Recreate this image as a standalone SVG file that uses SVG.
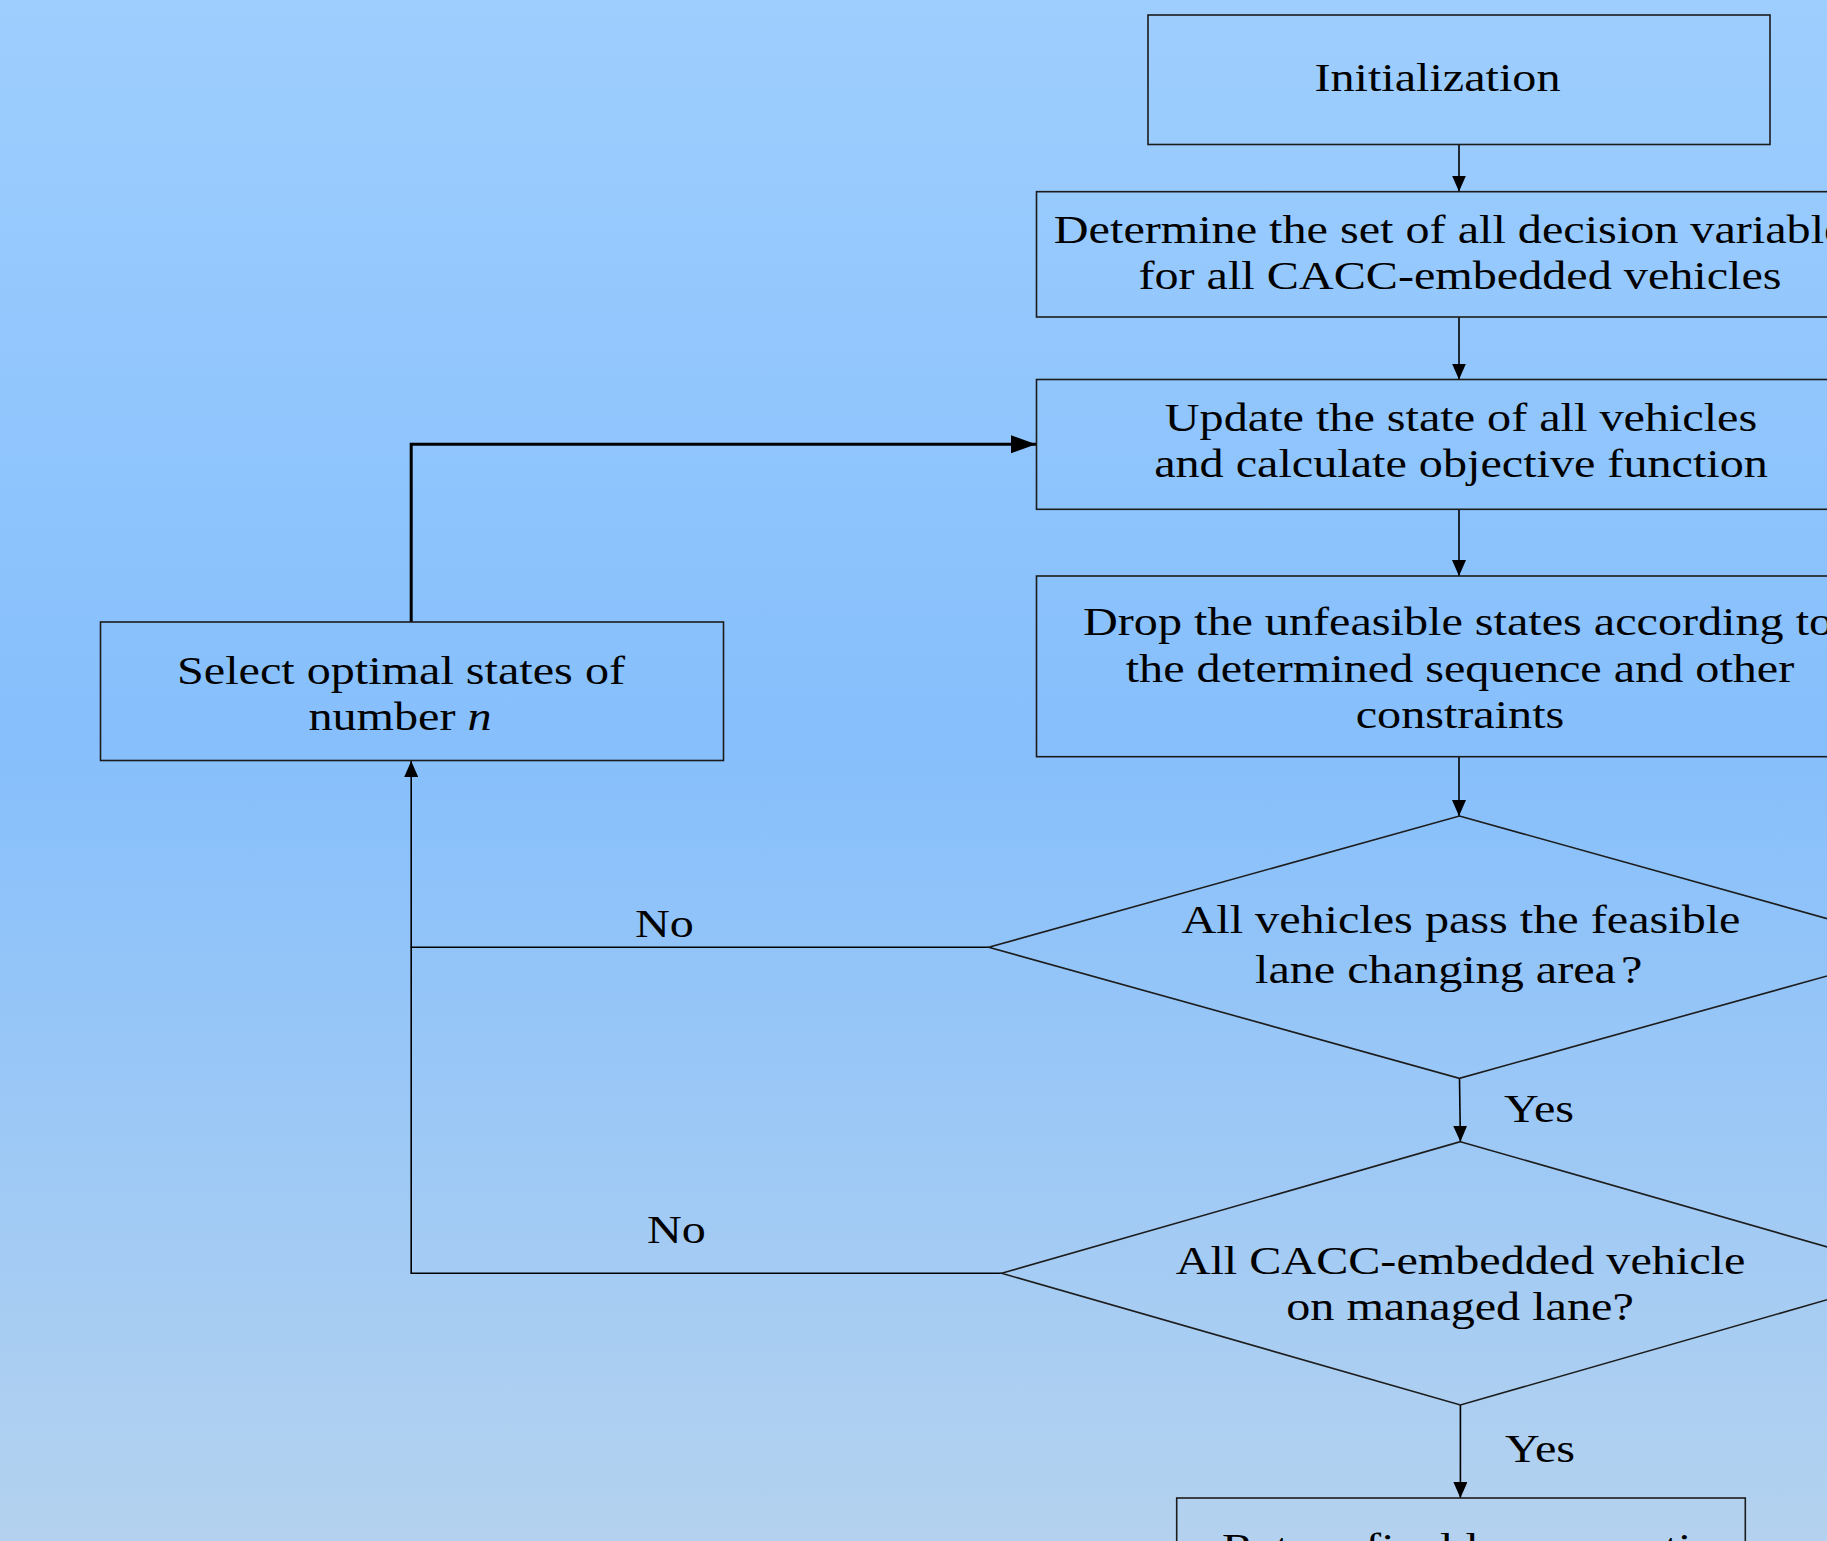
<svg xmlns="http://www.w3.org/2000/svg" width="1827" height="1541" viewBox="0 0 1827 1541">
<defs>
<linearGradient id="bg" x1="0" y1="0" x2="0" y2="1">
<stop offset="0" stop-color="#9ecefe"/>
<stop offset="0.48" stop-color="#86bffc"/>
<stop offset="1" stop-color="#b4d2ef"/>
</linearGradient>
<marker id="arr" viewBox="0 0 16 14" markerWidth="16" markerHeight="14" refX="16" refY="7" orient="auto" markerUnits="userSpaceOnUse">
<path d="M0,0 L16,7 L0,14 z" fill="#000"/>
</marker>
<marker id="arrBig" viewBox="0 0 25 18" markerWidth="25" markerHeight="18" refX="25" refY="9" orient="auto" markerUnits="userSpaceOnUse">
<path d="M0,0 L25,9 L0,18 z" fill="#000"/>
</marker>
</defs>
<style>
.box{fill:none;stroke:#1c1c1c;stroke-width:1.6}
.t{font-family:"Liberation Serif","Times New Roman",serif;font-size:39px;fill:#000;text-anchor:middle}
.s{text-anchor:start}
.c{fill:none;stroke:#000;stroke-width:1.6}
.ck{fill:none;stroke:#000;stroke-width:3}
</style>
<rect x="0" y="0" width="1827" height="1541" fill="url(#bg)"/>

<g id="connectors">
<line class="c" x1="1459" y1="144.5" x2="1459" y2="191.5" marker-end="url(#arr)"/>
<line class="c" x1="1459" y1="317" x2="1459" y2="379.5" marker-end="url(#arr)"/>
<line class="c" x1="1459" y1="509.5" x2="1459" y2="576" marker-end="url(#arr)"/>
<line class="c" x1="1459" y1="756.7" x2="1459" y2="816" marker-end="url(#arr)"/>
<line class="c" x1="1459.5" y1="1078.3" x2="1460.4" y2="1141.7" marker-end="url(#arr)"/>
<line class="c" x1="1460.4" y1="1405" x2="1460.4" y2="1498" marker-end="url(#arr)"/>
<polyline class="c" points="988.7,947.3 411.2,947.3 411.2,761" marker-end="url(#arr)"/>
<polyline class="c" points="1001.6,1273.3 411.2,1273.3 411.2,947.3"/>
<polyline class="ck" points="411.2,622 411.2,444.3 1036,444.3" marker-end="url(#arrBig)"/>
<text class="t s" transform="translate(635,937.3) scale(1.235,1)">No</text>
<text class="t s" transform="translate(647,1242.7) scale(1.235,1)">No</text>
<text class="t s" transform="translate(1504,1122.3) scale(1.235,1)">Yes</text>
<text class="t s" transform="translate(1505,1461.7) scale(1.235,1)">Yes</text>
</g>

<g id="init">
<rect class="box" x="1148" y="15" width="622" height="129.5"/>
<text class="t" transform="translate(1437.5,90.7) scale(1.235,1)">Initialization</text>
</g>

<g id="determine">
<rect class="box" x="1036.5" y="191.7" width="846" height="125.3"/>
<text class="t" transform="translate(1459,243) scale(1.235,1)">Determine the set of all decision variables</text>
<text class="t" transform="translate(1460,289.3) scale(1.235,1)">for all CACC-embedded vehicles</text>
</g>

<g id="update">
<rect class="box" x="1036.5" y="379.5" width="846" height="129.8"/>
<text class="t" transform="translate(1461,430.7) scale(1.235,1)">Update the state of all vehicles</text>
<text class="t" transform="translate(1461,477.3) scale(1.235,1)">and calculate objective function</text>
</g>

<g id="drop">
<rect class="box" x="1036.5" y="576" width="846" height="180.7"/>
<text class="t s" transform="translate(1083,635) scale(1.235,1)">Drop the unfeasible states according to</text>
<text class="t" transform="translate(1460,681.7) scale(1.235,1)">the determined sequence and other</text>
<text class="t" transform="translate(1460,728.3) scale(1.235,1)">constraints</text>
</g>

<g id="select">
<rect class="box" x="100.5" y="622" width="623" height="138.5"/>
<text class="t" transform="translate(401,684) scale(1.235,1)">Select optimal states of</text>
<text class="t" transform="translate(400,730) scale(1.235,1)">number <tspan font-style="italic">n</tspan></text>
</g>

<g id="decision1">
<polygon class="box" points="1459.4,816 1930,947.3 1459.4,1078.3 988.7,947.3"/>
<text class="t" transform="translate(1461,933.3) scale(1.235,1)">All vehicles pass the feasible</text>
<text class="t s" transform="translate(1255,982.7) scale(1.235,1)">lane changing area<tspan dx="4">?</tspan></text>
</g>

<g id="decision2">
<polygon class="box" points="1460.4,1141.7 1919.2,1273.3 1460.4,1405 1001.6,1273.3"/>
<text class="t" transform="translate(1460.5,1274) scale(1.235,1)">All CACC-embedded vehicle</text>
<text class="t" transform="translate(1460,1320) scale(1.235,1)">on managed lane?</text>
</g>

<g id="final">
<rect class="box" x="1176.7" y="1498" width="568.6" height="130"/>
<text class="t s" transform="translate(1222,1561) scale(1.235,1)">Return final lane operation</text>
</g>
</svg>
